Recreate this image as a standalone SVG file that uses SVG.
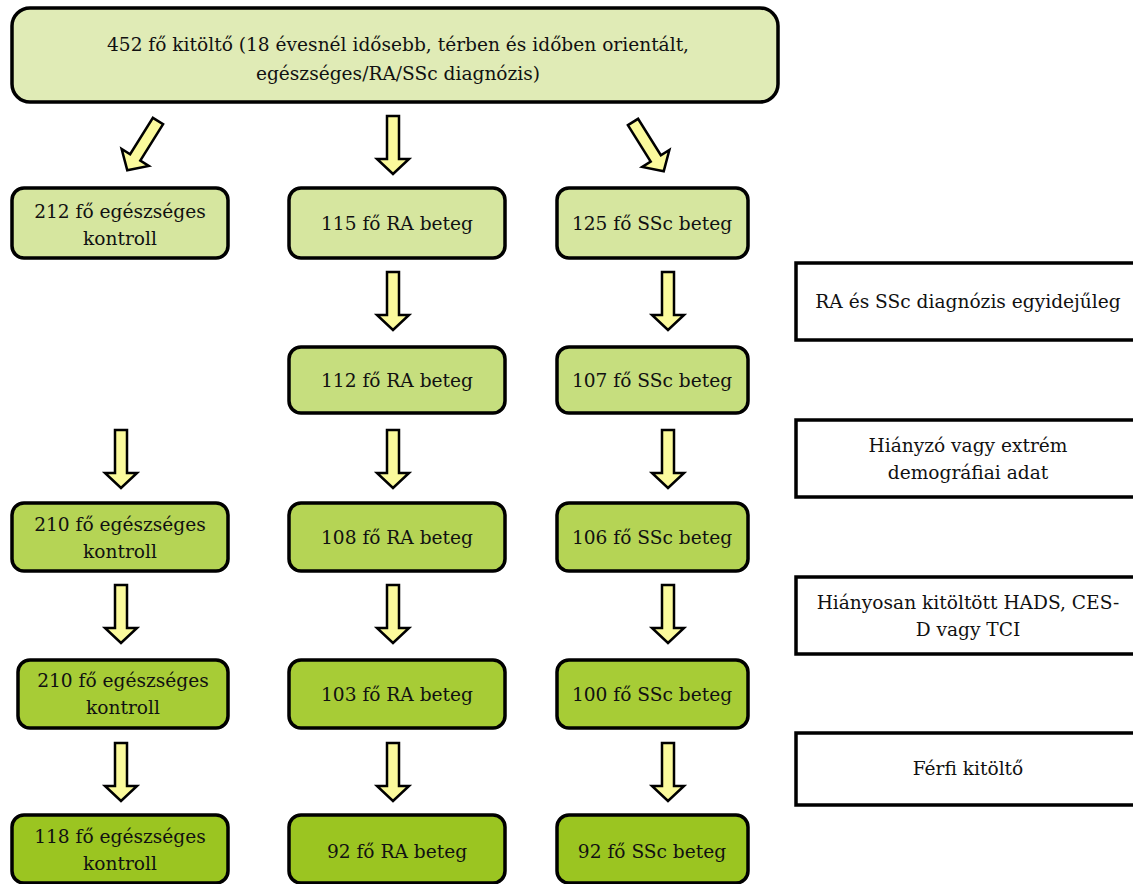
<svg xmlns="http://www.w3.org/2000/svg" xmlns:xlink="http://www.w3.org/1999/xlink" width="1133" height="884" viewBox="0 0 1133 884">
<style>
.box{stroke:#000;stroke-width:3.5}
.c0{fill:#e0ebb6}
.c1{fill:#d6e69f}
.c2{fill:#c6de7e}
.c3{fill:#b5d455}
.c4{fill:#a7cc36}
.c5{fill:#9bc521}
.side{fill:#fff;stroke:#000;stroke-width:3.5}
.arr{fill:#fbfa9c;stroke:#000;stroke-width:2.5;stroke-linejoin:miter}
text{font-family:"DejaVu Serif","Liberation Serif",serif;font-size:18.6px;fill:#111;text-anchor:middle}
</style>
<defs>
<path id="a" d="M-6,0 H6 V43 H16 L0,58 L-16,43 H-6 Z"/>
</defs>
<rect width="1133" height="884" fill="#fff"/>
<g id="connectors">
<use xlink:href="#a" class="arr" transform="translate(158,121) rotate(32)"/>
<use xlink:href="#a" class="arr" transform="translate(393,116)"/>
<use xlink:href="#a" class="arr" transform="translate(633,122) rotate(-32)"/>
<use xlink:href="#a" class="arr" transform="translate(393,272)"/>
<use xlink:href="#a" class="arr" transform="translate(668,272)"/>
<use xlink:href="#a" class="arr" transform="translate(121,430)"/>
<use xlink:href="#a" class="arr" transform="translate(393,430)"/>
<use xlink:href="#a" class="arr" transform="translate(668,430)"/>
<use xlink:href="#a" class="arr" transform="translate(121,585)"/>
<use xlink:href="#a" class="arr" transform="translate(393,585)"/>
<use xlink:href="#a" class="arr" transform="translate(668,585)"/>
<use xlink:href="#a" class="arr" transform="translate(121,743)"/>
<use xlink:href="#a" class="arr" transform="translate(393,743)"/>
<use xlink:href="#a" class="arr" transform="translate(668,743)"/>
</g>
<g id="top">
<rect class="box c0" x="12" y="8" width="766" height="94" rx="18"/>
<text x="398" y="51">452 fő kitöltő (18 évesnél idősebb, térben és időben orientált,</text>
<text x="398" y="80">egészséges/RA/SSc diagnózis)</text>
</g>
<g id="h1"><rect class="box c1" x="12" y="188" width="216" height="70" rx="12"/><text x="120" y="218">212 fő egészséges</text><text x="120" y="245">kontroll</text></g>
<g id="ra1"><rect class="box c1" x="289" y="188" width="216" height="70" rx="12"/><text x="397" y="230">115 fő RA beteg</text></g>
<g id="ssc1"><rect class="box c1" x="557" y="188" width="191" height="70" rx="12"/><text x="652" y="230">125 fő SSc beteg</text></g>
<g id="ra2"><rect class="box c2" x="289" y="347" width="216" height="66" rx="12"/><text x="397" y="387">112 fő RA beteg</text></g>
<g id="ssc2"><rect class="box c2" x="557" y="347" width="191" height="66" rx="12"/><text x="652" y="387">107 fő SSc beteg</text></g>
<g id="h3"><rect class="box c3" x="12" y="503" width="216" height="68" rx="12"/><text x="120" y="531">210 fő egészséges</text><text x="120" y="558">kontroll</text></g>
<g id="ra3"><rect class="box c3" x="289" y="503" width="216" height="68" rx="12"/><text x="397" y="544">108 fő RA beteg</text></g>
<g id="ssc3"><rect class="box c3" x="557" y="503" width="191" height="68" rx="12"/><text x="652" y="544">106 fő SSc beteg</text></g>
<g id="h4"><rect class="box c4" x="18" y="660" width="210" height="68" rx="12"/><text x="123" y="687">210 fő egészséges</text><text x="123" y="714">kontroll</text></g>
<g id="ra4"><rect class="box c4" x="289" y="660" width="216" height="68" rx="12"/><text x="397" y="701">103 fő RA beteg</text></g>
<g id="ssc4"><rect class="box c4" x="557" y="660" width="191" height="68" rx="12"/><text x="652" y="701">100 fő SSc beteg</text></g>
<g id="h5"><rect class="box c5" x="12" y="815" width="216" height="68" rx="12"/><text x="120" y="843">118 fő egészséges</text><text x="120" y="870">kontroll</text></g>
<g id="ra5"><rect class="box c5" x="289" y="815" width="216" height="68" rx="12"/><text x="397" y="858">92 fő RA beteg</text></g>
<g id="ssc5"><rect class="box c5" x="557" y="815" width="191" height="68" rx="12"/><text x="652" y="858">92 fő SSc beteg</text></g>
<g id="s1"><rect class="side" x="796" y="263" width="345" height="77"/><text x="968" y="308">RA és SSc diagnózis egyidejűleg</text></g>
<g id="s2"><rect class="side" x="796" y="420" width="345" height="77"/><text x="968" y="452">Hiányzó vagy extrém</text><text x="968" y="479">demográfiai adat</text></g>
<g id="s3"><rect class="side" x="796" y="577" width="345" height="77"/><text x="968" y="609">Hiányosan kitöltött HADS, CES-</text><text x="968" y="636">D vagy TCI</text></g>
<g id="s4"><rect class="side" x="796" y="733" width="345" height="72"/><text x="968" y="775">Férfi kitöltő</text></g>
</svg>
